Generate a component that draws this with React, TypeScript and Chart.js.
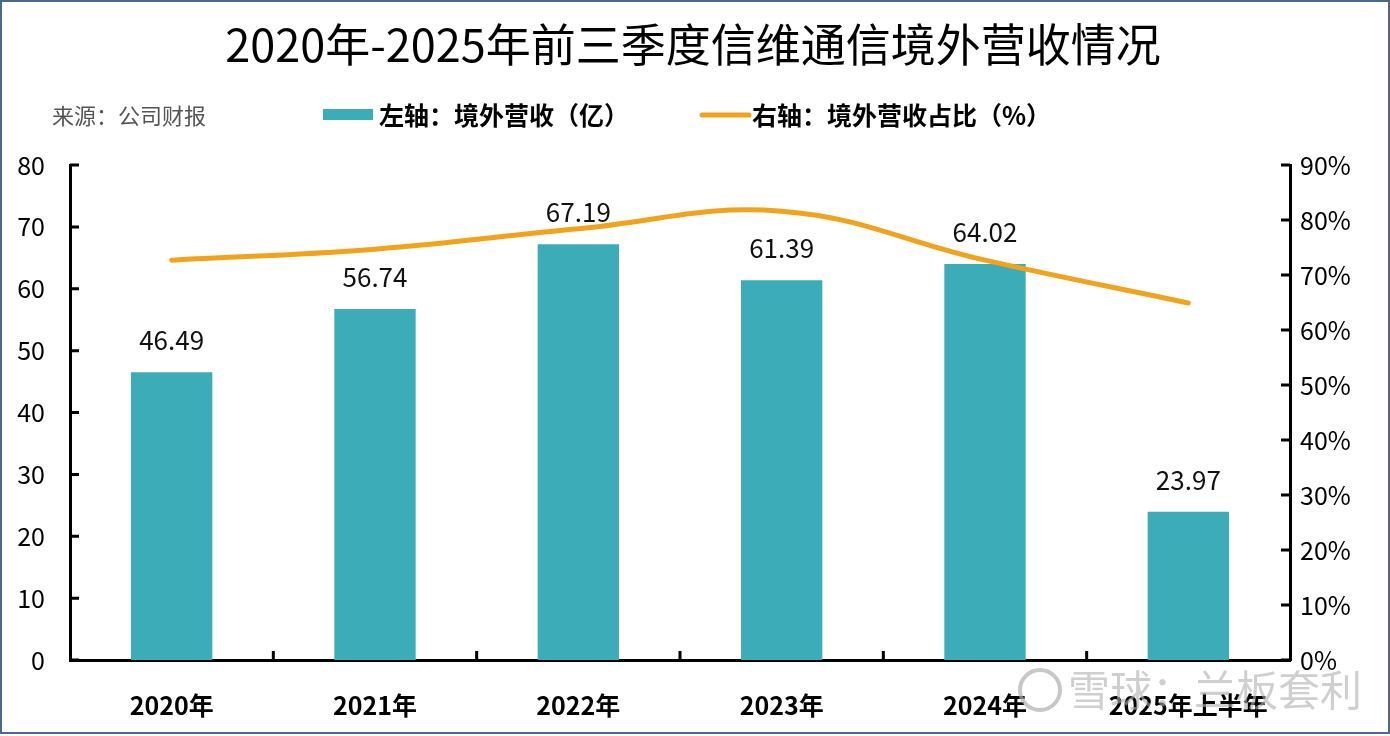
import React, { useEffect, useRef } from "react";
import { Chart, registerables } from "chart.js";

Chart.register(...registerables);

const FONT = "'Noto Sans CJK SC', 'Noto Sans', sans-serif";

const titleText = "2020年-2025年前三季度信维通信境外营收情况";
const sourceText = "来源：公司财报";
const legendBarLabel = "左轴：境外营收（亿）";
const legendLineLabel = "右轴：境外营收占比（%）";
const watermarkText = "雪球：兰板套利";

const categories = ["2020年", "2021年", "2022年", "2023年", "2024年", "2025年上半年"];
const overseasRevenue = [46.49, 56.74, 67.19, 61.39, 64.02, 23.97];
const overseasShare = [72.7, 74.7, 78.4, 81.6, 72.7, 64.9];

const leftMax = 80;
const leftStep = 10;
const rightMax = 90;
const rightStep = 10;

const BAR_COLOR = "#3BACB8";
const LINE_COLOR = "#F2A31C";

const decorPlugin = {
  id: "decor",
  afterDatasetsDraw(chart: any) {
    const ctx = chart.ctx;
    const area = chart.chartArea;
    const x = chart.scales.x;
    const y = chart.scales.y;
    const y1 = chart.scales.y1;
    ctx.save();
    // inward tick marks
    ctx.strokeStyle = "#000";
    ctx.lineWidth = 3;
    ctx.beginPath();
    y.ticks.forEach((t: any) => {
      const py = y.getPixelForValue(t.value);
      ctx.moveTo(area.left, py);
      ctx.lineTo(area.left + 9, py);
    });
    y1.ticks.forEach((t: any) => {
      const py = y1.getPixelForValue(t.value);
      ctx.moveTo(area.right, py);
      ctx.lineTo(area.right - 9, py);
    });
    for (let i = 0; i < categories.length - 1; i++) {
      const px = (x.getPixelForValue(i) + x.getPixelForValue(i + 1)) / 2;
      ctx.moveTo(px, area.bottom);
      ctx.lineTo(px, area.bottom - 9);
    }
    ctx.stroke();

    // bar value labels
    const meta = chart.getDatasetMeta(1);
    ctx.fillStyle = "#111";
    ctx.font = `26px ${FONT}`;
    ctx.textAlign = "center";
    ctx.textBaseline = "middle";
    meta.data.forEach((el: any, i: number) => {
      ctx.fillText(overseasRevenue[i].toFixed(2), el.x, el.y - 32);
    });
    ctx.restore();
  },
  afterDraw(chart: any) {
    const ctx = chart.ctx;
    const w = chart.width;
    const h = chart.height;
    ctx.save();
    // title
    ctx.fillStyle = "#000";
    ctx.textAlign = "center";
    ctx.textBaseline = "middle";
    ctx.font = `400 45px ${FONT}`;
    ctx.fillText(titleText, w / 2 - 2, 45);

    // source
    ctx.textAlign = "left";
    ctx.fillStyle = "#555";
    ctx.font = `22px ${FONT}`;
    ctx.fillText(sourceText, 52, 116);

    // legend
    ctx.fillStyle = BAR_COLOR;
    ctx.fillRect(323, 109, 50, 11);
    ctx.fillStyle = "#000";
    ctx.font = `bold 25px ${FONT}`;
    ctx.fillText(legendBarLabel, 379, 115);
    ctx.strokeStyle = LINE_COLOR;
    ctx.lineWidth = 5;
    ctx.lineCap = "round";
    ctx.beginPath();
    ctx.moveTo(702, 115);
    ctx.lineTo(749, 115);
    ctx.stroke();
    ctx.fillText(legendLineLabel, 752, 115);

    // watermark
    ctx.strokeStyle = "rgba(175,175,175,0.7)";
    ctx.lineWidth = 4;
    ctx.beginPath();
    ctx.arc(1040, 690, 20, 0, Math.PI * 2);
    ctx.stroke();
    ctx.fillStyle = "rgba(175,175,175,0.6)";
    ctx.font = `42px ${FONT}`;
    ctx.fillText(watermarkText, 1068, 690);

    // outer frame
    ctx.strokeStyle = "#4d6890";
    ctx.lineWidth = 2;
    ctx.strokeRect(1, 1, w - 2, h - 4);
    ctx.restore();
  },
};

export default function App() {
  const ref = useRef<HTMLCanvasElement | null>(null);

  useEffect(() => {
    if (!ref.current) return;
    const chart = new Chart(ref.current, {
      type: "bar",
      data: {
        labels: categories,
        datasets: [
          {
            type: "line",
            label: legendLineLabel,
            data: overseasShare,
            yAxisID: "y1",
            borderColor: LINE_COLOR,
            borderWidth: 5,
            borderCapStyle: "round",
            tension: 0.4,
            pointRadius: 0,
            fill: false,
            order: 0,
          } as any,
          {
            type: "bar",
            label: legendBarLabel,
            data: overseasRevenue,
            yAxisID: "y",
            backgroundColor: BAR_COLOR,
            barPercentage: 0.4,
            categoryPercentage: 1.0,
            order: 1,
          },
        ],
      },
      options: {
        animation: false,
        responsive: true,
        maintainAspectRatio: false,
        devicePixelRatio: 1,
        layout: { padding: { top: 165, left: 0, right: 0, bottom: 0 } },
        plugins: {
          legend: { display: false },
          title: { display: false },
          tooltip: { enabled: false },
        },
        scales: {
          x: {
            grid: { display: false, drawTicks: false },
            border: { display: true, width: 3, color: "#000" },
            ticks: {
              color: "#000",
              padding: 30,
              font: { family: FONT, size: 25, weight: "bold" },
              maxRotation: 0,
            },
            afterFit: (s: any) => {
              s.height = 76;
            },
          },
          y: {
            position: "left",
            min: 0,
            max: leftMax,
            grid: { display: false, drawTicks: false },
            border: { display: true, width: 3, color: "#000" },
            ticks: {
              stepSize: leftStep,
              color: "#000",
              padding: 25,
              font: { family: FONT, size: 25 },
            },
            afterFit: (s: any) => {
              s.width = 70;
            },
          },
          y1: {
            position: "right",
            min: 0,
            max: rightMax,
            grid: { display: false, drawTicks: false },
            border: { display: true, width: 3, color: "#000" },
            ticks: {
              stepSize: rightStep,
              color: "#000",
              padding: 10,
              font: { family: FONT, size: 25 },
              callback: (v: any) => `${v}%`,
            },
            afterFit: (s: any) => {
              s.width = 100;
            },
          },
        },
      } as any,
      plugins: [decorPlugin],
    });
    return () => chart.destroy();
  }, []);

  return (
    <div
      style={{
        position: "fixed",
        left: 0,
        top: 0,
        width: 1390,
        height: 736,
        background: "#fff",
      }}
    >
      <canvas ref={ref} />
    </div>
  );
}
